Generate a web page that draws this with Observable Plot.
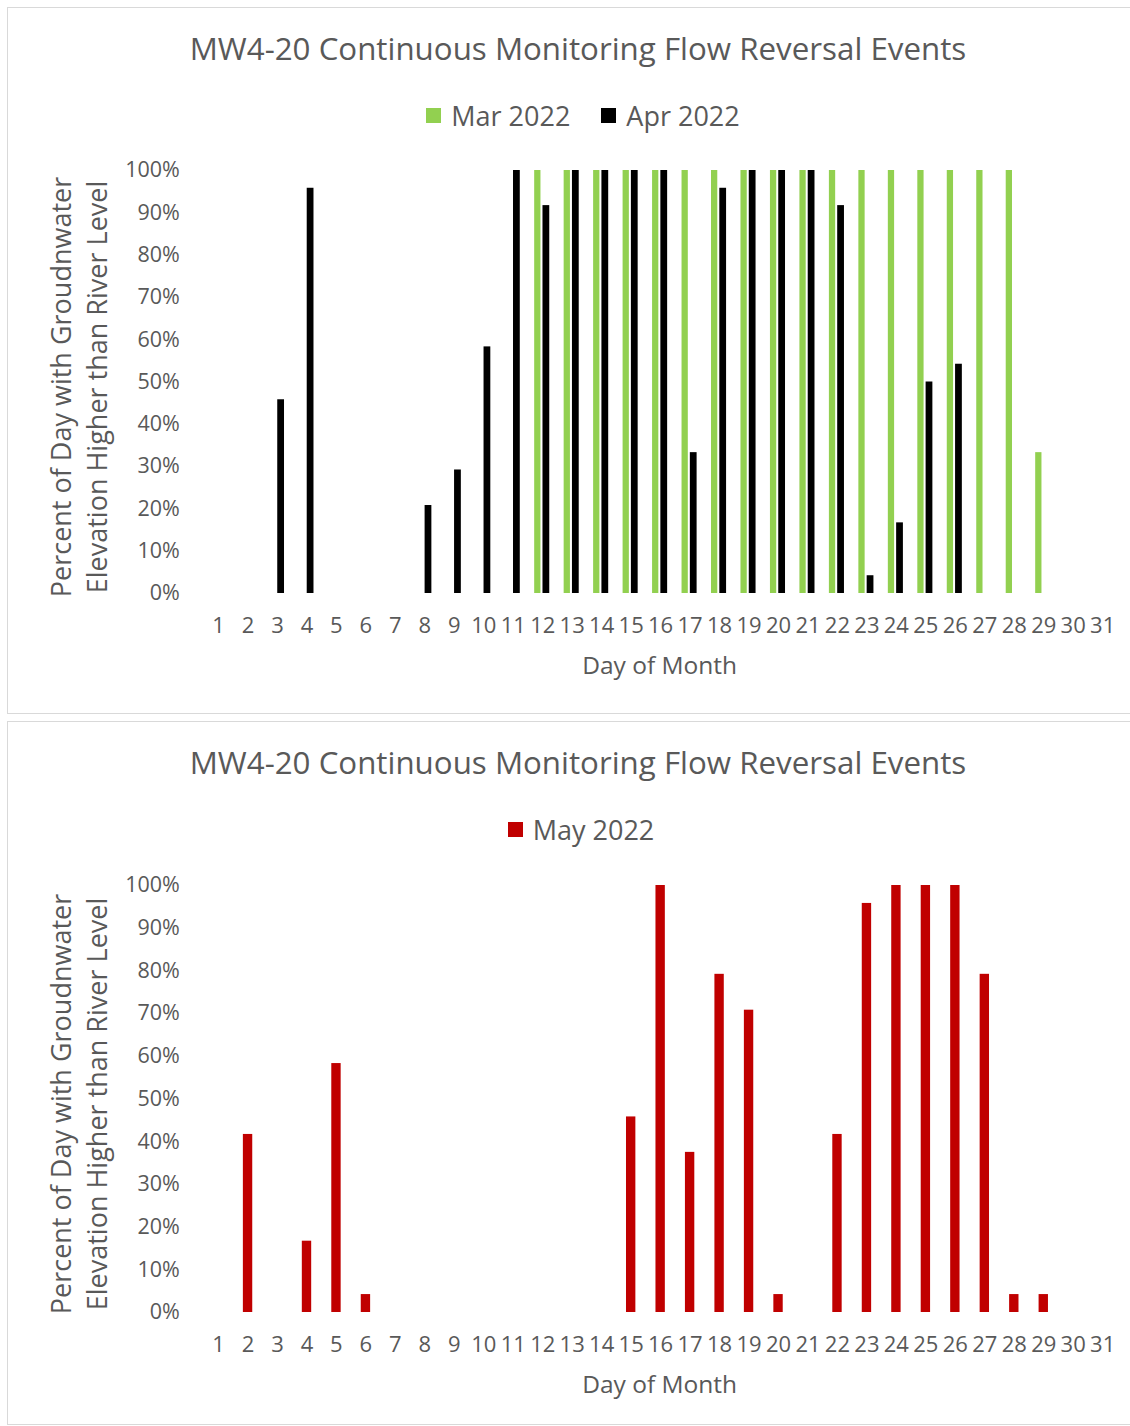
<!DOCTYPE html>
<html>
<head>
<meta charset="utf-8">
<script src="https://cdn.jsdelivr.net/npm/d3@7"></script>
<script src="https://cdn.jsdelivr.net/npm/@observablehq/plot@0.6"></script>
<style>
  html, body { margin: 0; padding: 0; background: #fff; }
  body { width: 1130px; height: 1426px; position: relative; overflow: hidden; font-family: "Open Sans", sans-serif; color: #595959; }
  .panel { position: absolute; left: 7px; width: 1142px; border: 1.5px solid #d9d9d9; box-sizing: border-box; }
  .title { position: absolute; left: 7px; width: 1142px; text-align: center; font-size: 31.3px; line-height: 1; white-space: nowrap; }
  .legend { position: absolute; width: 1142px; display: flex; justify-content: center; align-items: center; font-size: 27px; line-height: 1; gap: 31px; }
  .item { display: flex; align-items: center; gap: 10px; }
  .sw { width: 15px; height: 15px; display: inline-block; }
  .chart { position: absolute; left: 0; }
</style>
</head>
<body>
<div class="panel" style="top:7px;height:707px;"></div>
<div class="panel" style="top:721px;height:704px;"></div>
<div class="title" id="t1" style="top:33px;"></div>
<div class="legend" id="l1" style="top:102px;left:12px;"></div>
<div class="chart" id="c1" style="top:140px;"></div>
<div class="title" id="t2" style="top:747px;"></div>
<div class="legend" id="l2" style="top:816px;left:10px;"></div>
<div class="chart" id="c2" style="top:855px;"></div>
<script>
const chartTitle = "MW4-20 Continuous Monitoring Flow Reversal Events";
const yLabel = "Percent of Day with Groudnwater\nElevation Higher than River Level";
const xLabel = "Day of Month";
const days = [1,2,3,4,5,6,7,8,9,10,11,12,13,14,15,16,17,18,19,20,21,22,23,24,25,26,27,28,29,30,31];
const yTicks = [0,0.1,0.2,0.3,0.4,0.5,0.6,0.7,0.8,0.9,1];

const seriesNames1 = ["Mar 2022", "Apr 2022"];
const seriesColors1 = ["#92D050", "#000000"];
const mar2022 = [0,0,0,0,0,0,0,0,0,0,0,1,1,1,1,1,1,1,1,1,1,1,1,1,1,1,1,1,0.333,0,0];
const apr2022 = [0,0,0.458,0.958,0,0,0,0.208,0.292,0.583,1,0.917,1,1,1,1,0.333,0.958,1,1,1,0.917,0.042,0.167,0.5,0.542,0,0,0,0];

const seriesNames2 = ["May 2022"];
const seriesColors2 = ["#C00000"];
const may2022 = [0,0.417,0,0.167,0.583,0.042,0,0,0,0,0,0,0,0,0.458,1,0.375,0.792,0.708,0.042,0,0.417,0.958,1,1,1,0.792,0.042,0.042,0,0];

const textColor = "#595959";
const gridColor = "#d9d9d9";
const font = "'Open Sans', sans-serif";

function legend(el, names, colors) {
  names.forEach((n, i) => {
    const it = document.createElement("div");
    it.className = "item";
    const sw = document.createElement("span");
    sw.className = "sw"; sw.style.background = colors[i];
    const tx = document.createElement("span");
    tx.textContent = n;
    it.appendChild(sw); it.appendChild(tx);
    el.appendChild(it);
  });
}

function baseMarks() {
  return [
    Plot.ruleY(yTicks, {stroke: gridColor, strokeWidth: 1.5, x1: 204, x2: 1120}),
    Plot.axisY(yTicks, {tickSize: 0, tickPadding: 24, tickFormat: d3.format(".0%"), fill: textColor, fontSize: 21.5, label: null}),
    Plot.axisX({tickSize: 0, tickPadding: 24, fill: textColor, fontSize: 22, label: null}),
    Plot.text([xLabel], {frameAnchor: "bottom", dx: -1, dy: 73, lineAnchor: "middle", fill: textColor, fontSize: 24.5}),
    Plot.text([yLabel], {frameAnchor: "left", textAnchor: "middle", dx: -126, dy: 5, rotate: -90, lineAnchor: "middle", lineHeight: 1.3, fill: textColor, fontSize: 27})
  ];
}

function chart(height, marginBottom, marks) {
  return Plot.plot({
    width: 1130, height,
    marginLeft: 203.3, marginRight: 13.1, marginTop: 30, marginBottom,
    style: {fontFamily: font, background: "transparent", overflow: "visible"},
    x: {type: "band", domain: days, paddingInner: 0, paddingOuter: 0, round: false},
    y: {domain: [0, 1]},
    marks: [...baseMarks(), ...marks]
  });
}

document.getElementById("t1").textContent = chartTitle;
document.getElementById("t2").textContent = chartTitle;
legend(document.getElementById("l1"), seriesNames1, seriesColors1);
legend(document.getElementById("l2"), seriesNames2, seriesColors2);

const marData = days.map((d, i) => ({day: d, v: mar2022[i]})).filter(d => d.v > 0);
const aprData = days.slice(0, apr2022.length).map((d, i) => ({day: d, v: apr2022[i]})).filter(d => d.v > 0);
const mayData = days.map((d, i) => ({day: d, v: may2022[i]})).filter(d => d.v > 0);

document.getElementById("c1").appendChild(chart(553, 100, [
  Plot.barY(marData, {x: "day", y: "v", fill: seriesColors1[0], insetLeft: 6.7, insetRight: 16.5}),
  Plot.barY(aprData, {x: "day", y: "v", fill: seriesColors1[1], insetLeft: 15, insetRight: 7.7})
]));

document.getElementById("c2").appendChild(chart(557, 100, [
  Plot.barY(mayData, {x: "day", y: "v", fill: seriesColors2[0], insetLeft: 10.1, insetRight: 10})
]));
</script>
</body>
</html>
